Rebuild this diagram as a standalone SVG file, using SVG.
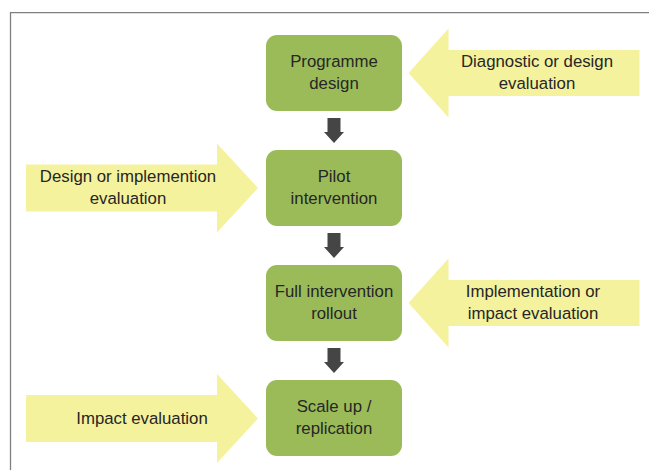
<svg xmlns="http://www.w3.org/2000/svg" xmlns:xlink="http://www.w3.org/1999/xlink" width="649" height="470" viewBox="0 0 649 470">
  <style>
    .box { fill: #9BBB59; }
    .eval { fill: #F5F29D; }
    .flow { fill: #454545; }
    .frame { fill: none; stroke: #808080; stroke-width: 1.3; }
    text { font-family: "Liberation Sans", Arial, sans-serif; font-size: 16.8px; fill: #262626; text-anchor: middle; }
  </style>
  <defs>
    <polygon id="arrowRight" points="-232,-23.5 -41,-23.5 -41,-44.5 0,0 -41,44.5 -41,23.5 -232,23.5"/>
    <polygon id="arrowLeft" points="0,0 40,-44.5 40,-23 231,-23 231,23 40,23 40,44.5"/>
    <polygon id="down" points="-6.5,0 6.5,0 6.5,14 10,14 0,25 -10,14 -6.5,14"/>
  </defs>
  <rect width="649" height="470" fill="#FFFFFF"/>
  <path class="frame" d="M10.5,470 V12.7 H649"/>

  <g id="connectors">
    <use xlink:href="#down" href="#down" class="flow" transform="translate(334,118)"/>
    <use xlink:href="#down" href="#down" class="flow" transform="translate(334,233)"/>
    <use xlink:href="#down" href="#down" class="flow" transform="translate(334,348)"/>
  </g>

  <g id="programme-design">
    <rect class="box" x="266" y="35" width="136" height="76" rx="11"/>
    <text x="334" y="67">Programme</text>
    <text x="334" y="89">design</text>
  </g>
  <g id="pilot-intervention">
    <rect class="box" x="266" y="150" width="136" height="76" rx="11"/>
    <text x="334" y="182">Pilot</text>
    <text x="334" y="204">intervention</text>
  </g>
  <g id="full-rollout">
    <rect class="box" x="266" y="265" width="136" height="76" rx="11"/>
    <text x="334" y="297">Full intervention</text>
    <text x="334" y="319">rollout</text>
  </g>
  <g id="scale-up">
    <rect class="box" x="266" y="380" width="136" height="76" rx="11"/>
    <text x="334" y="412">Scale up /</text>
    <text x="334" y="434">replication</text>
  </g>

  <g id="eval-diagnostic">
    <use xlink:href="#arrowLeft" href="#arrowLeft" class="eval" transform="translate(408.5,73)"/>
    <text x="537" y="67">Diagnostic or design</text>
    <text x="537" y="89">evaluation</text>
  </g>
  <g id="eval-design-impl">
    <use xlink:href="#arrowRight" href="#arrowRight" class="eval" transform="translate(258,188)"/>
    <text x="128" y="182">Design or implemention</text>
    <text x="128" y="204">evaluation</text>
  </g>
  <g id="eval-impl-impact">
    <use xlink:href="#arrowLeft" href="#arrowLeft" class="eval" transform="translate(408.5,303)"/>
    <text x="533" y="297">Implementation or</text>
    <text x="533" y="319">impact evaluation</text>
  </g>
  <g id="eval-impact">
    <use xlink:href="#arrowRight" href="#arrowRight" class="eval" transform="translate(258,418.5)"/>
    <text x="142" y="424">Impact evaluation</text>
  </g>
</svg>
